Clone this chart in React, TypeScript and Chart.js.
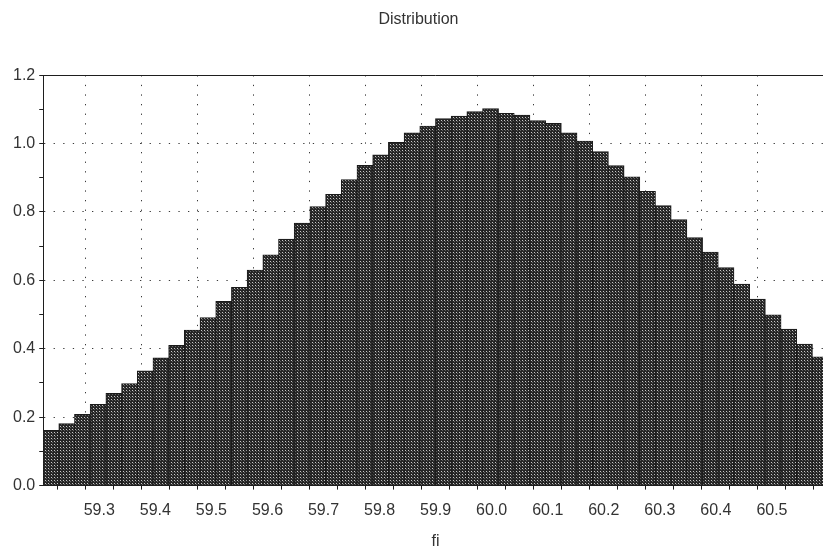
import { useEffect, useRef } from "react";
import { Chart, registerables } from "chart.js";

Chart.register(...registerables);

// Histogram bins: 50 equal-width bins starting at 59.2
const binStart = 59.2;
const binWidth = 0.028;
const frequencies = [
  0.161, 0.181, 0.208, 0.237, 0.269, 0.298, 0.335, 0.373, 0.41, 0.454,
  0.491, 0.538, 0.579, 0.63, 0.674, 0.72, 0.767, 0.815, 0.851, 0.894,
  0.936, 0.967, 1.003, 1.031, 1.051, 1.073, 1.08, 1.093, 1.102, 1.088,
  1.083, 1.067, 1.059, 1.031, 1.007, 0.976, 0.935, 0.902, 0.86, 0.818,
  0.777, 0.725, 0.682, 0.637, 0.589, 0.545, 0.499, 0.457, 0.413, 0.376,
];

// Axis ticks: labelled (major) and unlabelled (minor)
const xMajorTicks = [59.3, 59.4, 59.5, 59.6, 59.7, 59.8, 59.9, 60.0, 60.1, 60.2, 60.3, 60.4, 60.5];
const xMinorTicks = [59.2, 59.25, 59.35, 59.45, 59.55, 59.65, 59.75, 59.85, 59.95, 60.05, 60.15, 60.25, 60.35, 60.45, 60.55, 60.6];
const yMajorTicks = [0, 0.2, 0.4, 0.6, 0.8, 1.0, 1.2];
const yMinorTicks = [0.1, 0.3, 0.5, 0.7, 0.9, 1.1];

const X_MIN = 59.2;
const X_MAX = 60.6;
const Y_MIN = 0;
const Y_MAX = 1.2;

const FONT = "'Liberation Sans', Arial, sans-serif";
const TEXT = "#333333";
const AXIS = "#1e1e1e";
const DOTS = "#3a3a3a";

const near = (a: number, b: number) => Math.abs(a - b) < 1e-6;
const isIn = (list: number[], v: number) => list.some((t) => near(t, v));

// Dark woven texture used to fill the bars
function makeTexture(): CanvasPattern | string {
  const tile = document.createElement("canvas");
  tile.width = 3;
  tile.height = 3;
  const c = tile.getContext("2d");
  if (!c) return "#3c3c3c";
  c.fillStyle = "#262626";
  c.fillRect(0, 0, 3, 3);
  c.fillStyle = "#c8c8c8";
  c.fillRect(0, 0, 1, 1);
  c.fillStyle = "#626262";
  c.fillRect(1, 1, 1, 1);
  const p = c.createPattern(tile, "repeat");
  return p ?? "#3c3c3c";
}

const topFrame = {
  id: "topFrame",
  afterDatasetsDraw(chart: Chart) {
    const { ctx, chartArea } = chart;
    ctx.save();
    ctx.strokeStyle = AXIS;
    ctx.lineWidth = 1;
    ctx.beginPath();
    ctx.moveTo(chartArea.left, Math.round(chartArea.top) + 0.5);
    ctx.lineTo(chartArea.right, Math.round(chartArea.top) + 0.5);
    ctx.stroke();
    ctx.restore();
  },
};

export default function App() {
  const canvasRef = useRef<HTMLCanvasElement | null>(null);

  useEffect(() => {
    const canvas = canvasRef.current;
    if (!canvas) return;

    const points = frequencies.map((v, i) => ({
      x: binStart + (i + 0.5) * binWidth,
      y: v,
    }));

    const chart = new Chart(canvas, {
      type: "bar",
      data: {
        datasets: [
          {
            label: "Distribution",
            data: points,
            backgroundColor: makeTexture() as any,
            borderColor: "#1a1a1a",
            borderWidth: 1,
            barPercentage: 1,
            categoryPercentage: 1,
            inflateAmount: 0.5,
          },
        ],
      },
      options: {
        responsive: false,
        animation: false,
        devicePixelRatio: 1,
        layout: { padding: { left: 9, right: 13, top: 0, bottom: 3 } },
        plugins: {
          legend: { display: false },
          tooltip: { enabled: false },
          title: {
            display: true,
            text: "Distribution",
            color: TEXT,
            font: { family: FONT, size: 16, weight: "normal" },
            padding: { top: 10, bottom: 46 },
          },
        },
        scales: {
          x: {
            type: "linear",
            min: X_MIN,
            max: X_MAX,
            offset: false,
            afterBuildTicks: (scale: any) => {
              scale.ticks = [...xMajorTicks, ...xMinorTicks]
                .sort((a, b) => a - b)
                .map((value) => ({ value }));
            },
            ticks: {
              autoSkip: false,
              maxRotation: 0,
              minRotation: 0,
              padding: 11,
              color: TEXT,
              font: { family: FONT, size: 16 },
              callback: (value: any) =>
                isIn(xMajorTicks, Number(value)) ? Number(value).toFixed(1) : "",
            },
            grid: {
              color: (ctx: any) =>
                ctx.tick && isIn(xMajorTicks, ctx.tick.value) ? DOTS : "rgba(0,0,0,0)",
              lineWidth: 1,
              tickColor: AXIS,
              tickLength: 4,
            },
            border: { display: true, color: AXIS, width: 1, dash: [1.3, 8.3] },
            title: {
              display: true,
              text: "fi",
              color: TEXT,
              font: { family: FONT, size: 16 },
              padding: { top: 1, bottom: 0 },
            },
          },
          y: {
            min: Y_MIN,
            max: Y_MAX,
            afterBuildTicks: (scale: any) => {
              scale.ticks = [...yMajorTicks, ...yMinorTicks]
                .sort((a, b) => a - b)
                .map((value) => ({ value }));
            },
            ticks: {
              autoSkip: false,
              padding: 4,
              color: TEXT,
              font: { family: FONT, size: 16 },
              callback: (value: any) =>
                isIn(yMajorTicks, Number(value)) ? Number(value).toFixed(1) : "",
            },
            grid: {
              color: (ctx: any) => {
                const v = ctx.tick ? ctx.tick.value : -1;
                return isIn(yMajorTicks, v) && !near(v, Y_MIN) && !near(v, Y_MAX)
                  ? DOTS
                  : "rgba(0,0,0,0)";
              },
              lineWidth: 1,
              tickColor: AXIS,
              tickLength: 4,
            },
            border: { display: true, color: AXIS, width: 1, dash: [1.3, 8.3] },
          },
        },
      },
      plugins: [topFrame],
    });

    return () => chart.destroy();
  }, []);

  return (
    <div
      style={{
        position: "fixed",
        left: 0,
        top: 0,
        width: 823,
        height: 554,
        overflow: "hidden",
        background: "#ffffff",
      }}
    >
      <canvas ref={canvasRef} width={841} height={554} style={{ display: "block" }} />
    </div>
  );
}
